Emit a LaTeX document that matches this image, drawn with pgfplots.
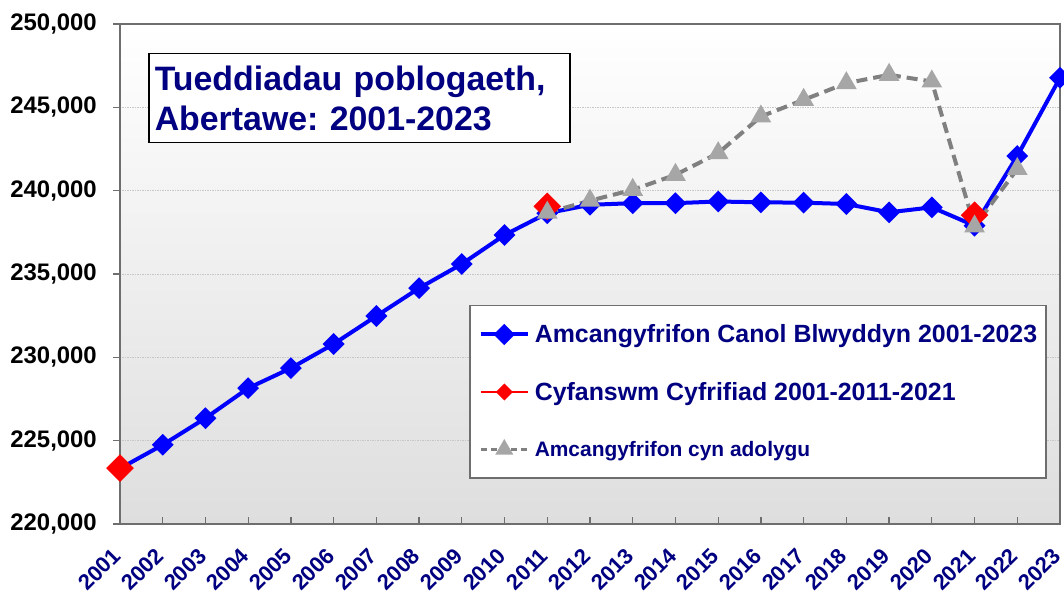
\documentclass[border=0pt]{standalone}
\usepackage{fontspec}
\setmainfont{Liberation Sans}
\usepackage{pgfplots}
\pgfplotsset{compat=1.18}
\definecolor{navy}{RGB}{0,0,128}
\definecolor{dgray}{RGB}{128,128,128}
\definecolor{lgray}{RGB}{166,166,166}
\definecolor{axgray}{RGB}{110,110,110}
\frenchspacing
\begin{document}
\begin{tikzpicture}
\begin{axis}[
  at={(0,0)}, anchor=south west,
  width=940bp, height=500bp, scale only axis,
  xmin=2001, xmax=2023, ymin=220000, ymax=250000,
  clip=false,
  axis background/.style={top color=white, bottom color={rgb,255:red,222;green,222;blue,222}},
  xtick={2001,2002,2003,2004,2005,2006,2007,2008,2009,2010,2011,2012,2013,2014,2015,2016,2017,2018,2019,2020,2021,2022,2023},
  xticklabels={2001,2002,2003,2004,2005,2006,2007,2008,2009,2010,2011,2012,2013,2014,2015,2016,2017,2018,2019,2020,2021,2022,2023},
  ytick={220000,225000,230000,235000,240000,245000,250000},
  scaled y ticks=false,
  /pgf/number format/fixed,
  /pgf/number format/precision=0,
  /pgf/number format/assume math mode=true,
  /pgf/number format/1000 sep={,},
  xtick pos=bottom, ytick pos=left,
  tick align=inside, major tick length=7bp,
  tick style={draw=axgray, line width=1.3bp},
  ytick style={xshift=-7bp},
  axis line style={draw=axgray, line width=1.8bp},
  ymajorgrids,
  grid style={draw=gray!45, line width=0.8bp, dash pattern=on 1.5bp off 1bp},
  yticklabel style={font=\fontsize{24}{24}\selectfont\bfseries, text=black, inner sep=0pt, xshift=-23bp},
  xticklabel style={font=\fontsize{22}{22}\selectfont\bfseries, text=navy, inner sep=0pt, xshift=-3bp, yshift=-28bp, rotate=45, anchor=east},
  legend image code/.code={\draw[mark repeat=2,mark phase=2,#1] plot coordinates {(0bp,0bp) (23.5bp,0bp) (47bp,0bp)};},
  legend cell align=left,
  legend style={at={(0.3713,0.438)}, anchor=north west, draw=axgray, line width=1.5bp, fill=white,
    inner xsep=9bp, inner ysep=0pt, column sep=5bp, font=\bfseries, text=navy,
    nodes={inner sep=0pt}},
]
\addplot[color=blue, line width=4bp, mark=square*, mark size=5.7bp, mark options={rotate=45}, forget plot] coordinates {
(2001,223330) (2002,224750) (2003,226350) (2004,228150) (2005,229350) (2006,230800) (2007,232480) (2008,234150) (2009,235600) (2010,237340) (2011,238650) (2012,239150) (2013,239250) (2014,239250) (2015,239350) (2016,239300) (2017,239280) (2018,239200) (2019,238700) (2020,239000) (2021,237900) (2022,242080) (2023,246770)
};
\addplot[only marks, color=red, mark=square*, mark size=9.5bp, mark options={rotate=45}, forget plot] coordinates {
(2001,223350) (2011,239060) (2021,238530)
};
\addplot[color=dgray, line width=4bp, dash pattern=on 11bp off 6bp, mark=triangle*, mark size=8bp, mark options={solid, draw=lgray, fill=lgray}, forget plot] coordinates {
(2011,238680) (2012,239400) (2013,240050) (2014,240950) (2015,242250) (2016,244450) (2017,245450) (2018,246450) (2019,246950) (2020,246550) (2021,237850) (2022,241300)
};
\addlegendimage{color=blue, line width=4bp, mark=square*, mark size=5.5bp, mark options={rotate=45}}
\addlegendentry[text height=36.75bp, text depth=20.75bp]{\fontsize{25}{25}\selectfont Amcangyfrifon Canol Blwyddyn 2001-2023}
\addlegendimage{color=red, line width=2bp, mark=square*, mark size=5bp, mark options={rotate=45}}
\addlegendentry[text height=37.25bp, text depth=20.25bp]{\fontsize{25}{25}\selectfont Cyfanswm Cyfrifiad 2001-2011-2021}
\addlegendimage{color=dgray, line width=3bp, dash pattern=on 6bp off 4bp, mark=triangle*, mark size=7.5bp, mark options={solid, draw=lgray, fill=lgray}}
\addlegendentry[text height=35.45bp, text depth=22.05bp]{\fontsize{21}{21}\selectfont Amcangyfrifon cyn adolygu}
\node[draw=black, line width=1.5bp, fill=white, anchor=north west, inner xsep=6bp, inner ysep=12bp,
  align=left, text=navy, font=\fontsize{34}{40}\selectfont\bfseries, text width=409bp]
  at (rel axis cs:0.0298,0.942) {Tueddiadau poblogaeth,\\Abertawe: 2001-2023};
\end{axis}
\pgfresetboundingbox
\path[use as bounding box] (-120bp,-72bp) rectangle (944bp,524bp);
\end{tikzpicture}
\end{document}
